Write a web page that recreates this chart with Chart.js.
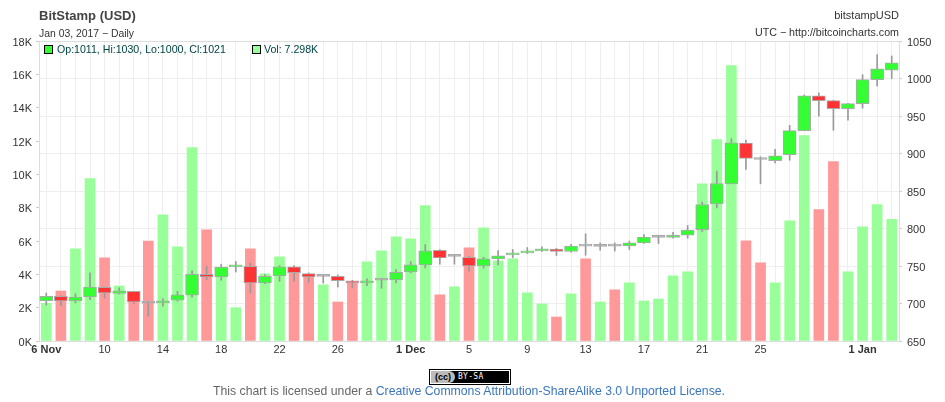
<!DOCTYPE html>
<html>
<head>
<meta charset="utf-8">
<title>BitStamp (USD)</title>
<script src="https://cdn.jsdelivr.net/npm/chart.js@4"></script>
<style>
html, body { margin: 0; padding: 0; background: #fff; overflow: hidden; }
body { width: 945px; height: 402px; position: relative; font-family: "Liberation Sans", Arial, sans-serif; }
canvas { position: absolute; left: 0; top: 0; }
.t { position: absolute; white-space: nowrap; line-height: 14px; }
.sw { position: absolute; width: 7px; height: 7px; border: 1px solid #000; }
a { color: #3a76bd; text-decoration: none; }
#badge { position: absolute; left: 429px; top: 369px; width: 76px; height: 10px; border: 1px solid #000; outline: 1px solid #000; outline-offset: 1px; background: #000; margin: 2px 0 0 2px; }
#badge b { position: absolute; left: -1px; top: -1px; width: 24px; height: 12px; border-radius: 0 6px 6px 0; background: #bbb; color: #000; font: bold 9px/12px "Liberation Sans", sans-serif; text-align: center; }
#badge span { position: absolute; left: 26px; top: 0; color: #fff; font: 8px/10px "DejaVu Sans Mono", monospace; letter-spacing: .3px; }
</style>
</head>
<body>
<canvas id="priceChart" width="945" height="402"></canvas>

<div class="t" style="left:39px;top:9px;font-size:13px;font-weight:bold;color:#444">BitStamp (USD)</div>
<div class="t" style="left:39px;top:27px;font-size:10.4px;color:#333">Jan 03, 2017 &minus; Daily</div>
<div class="t" style="right:46px;top:8px;font-size:11px;color:#333">bitstampUSD</div>
<div class="t" style="right:46px;top:25px;font-size:10.7px;color:#333">UTC &minus; http://bitcoincharts.com</div>

<div class="sw" style="left:44px;top:45px;background:#33ff33"></div>
<div class="t" style="left:57px;top:42px;font-size:10.6px;color:#004444">Op:1011, Hi:1030, Lo:1000, Cl:1021</div>
<div class="sw" style="left:252px;top:45px;background:#99ff99"></div>
<div class="t" style="left:264px;top:42px;font-size:10.6px;color:#004444">Vol: 7.298K</div>

<div id="badge"><b>(cc)</b><span>BY-SA</span></div>
<div class="t" style="left:0;width:938px;top:384px;text-align:center;font-size:12.25px;color:#666">This chart is licensed under a <a href="#">Creative Commons Attribution-ShareAlike 3.0 Unported License.</a></div>

<script>
var categories = ['6 Nov','7 Nov','8 Nov','9 Nov','10 Nov','11 Nov','12 Nov','13 Nov','14 Nov','15 Nov',
    '16 Nov','17 Nov','18 Nov','19 Nov','20 Nov','21 Nov','22 Nov','23 Nov','24 Nov','25 Nov',
    '26 Nov','27 Nov','28 Nov','29 Nov','30 Nov','1 Dec','2 Dec','3 Dec','4 Dec','5 Dec',
    '6 Dec','7 Dec','8 Dec','9 Dec','10 Dec','11 Dec','12 Dec','13 Dec','14 Dec','15 Dec',
    '16 Dec','17 Dec','18 Dec','19 Dec','20 Dec','21 Dec','22 Dec','23 Dec','24 Dec','25 Dec',
    '26 Dec','27 Dec','28 Dec','29 Dec','30 Dec','31 Dec','1 Jan','2 Jan','3 Jan'];

var tickDays = ['6 Nov','10 Nov','14 Nov','18 Nov','22 Nov','26 Nov','1 Dec','5 Dec','9 Dec','13 Dec','17 Dec','21 Dec','25 Dec','1 Jan'];
var tickText = ['6 Nov','10','14','18','22','26','1 Dec','5','9','13','17','21','25','1 Jan'];

var opens = [703.4,709.6,703.4,708.7,721.7,713.6,716.3,700.7,700.7,704.3,
    711,739,735.4,748.8,749.7,727.4,736.8,748.8,739.9,736.1,
    736.3,730,727.4,731.2,731.4,742.1,751.5,771,762.8,761.7,
    750.1,759.5,764.8,767.5,770,772.4,769.3,776.6,776.2,776.8,
    776.8,780.8,788.2,788,791,798.6,832.8,859.6,914,892.2,
    890.3,898.3,930.4,977,970.4,959.7,966.4,998.5,1011];
var closes = [709.6,703.4,708.7,722,714,716.8,702,700.4,703.4,711.4,
    739,735.4,748.4,751,727.4,736.3,748.8,741.2,735.4,736.3,
    730.5,727.4,730,731.4,741.7,751.5,770.2,760.8,763,750.1,
    759.5,763.5,767.5,770,772.8,769.3,776.4,776.4,776.4,776.6,
    780.8,788.4,788.4,791,798,832,860,914.3,893.4,892,
    897,930.4,977,970.4,959.7,966.4,998.5,1013,1021];
var highs = [714,710.5,713,740.8,722,720.8,716.3,703,706.5,716.3,
    743.5,749.7,752.4,756,754,738.6,750.6,750.6,740.8,737.2,
    738,731,732.8,733.7,745.2,755.9,778.6,772,764,763,
    761.7,770.6,772,774.6,775.5,773.7,779,792.9,780.8,780.8,
    783,792,791,795,804,835,876.5,919.7,918,895.6,
    905.4,937.4,978,981,971,966.8,1005,1032,1030];
var lows = [698,697,700.7,705,707,712.7,700,683,696.3,703,
    708.3,731.9,731,742,714,726.5,729.7,729.7,728.3,727.4,
    722,720.8,723.9,720.3,727.4,740.8,747.5,752.4,752.4,743,
    747,751.5,761,766.6,769.3,764,768.4,764.4,771,770,
    772,780,780,787,787,796,827.5,859.6,878.7,859.6,
    887.6,891,930.4,949.9,931,944.5,960.5,990,1000];
var volumes = [2260,3000,5530,9740,4990,3300,2970,6000,7570,5650,
    11600,6670,4200,2000,5530,4030,5050,4300,3900,3370,
    2340,3470,4750,5410,6250,6130,8120,2770,3250,5590,
    6790,4810,4930,2890,2220,1440,2830,4930,2340,3070,
    3490,2400,2520,3910,4150,9430,12080,16530,6010,4690,
    3490,7210,12320,7880,10760,4150,6850,8180,7298];

var GREEN = '#33ff33', RED = '#ff3333', DOJI = '#aaaaaa';

function isDoji(i) {
    return Math.abs(opens[i] - closes[i]) < 0.5;
}

var ctx = document.getElementById('priceChart').getContext('2d');
var myChart = new Chart(ctx, {
    type: 'bar',
    data: {
        labels: categories,
        datasets: [
            {
                // candle bodies
                yAxisID: 'yPrice',
                order: 1,
                grouped: false,
                barThickness: 13,
                minBarLength: 2,
                borderWidth: 1,
                borderSkipped: false,
                borderColor: '#aaaaaa',
                backgroundColor: opens.map(function (o, i) {
                    if (isDoji(i)) return DOJI;
                    return closes[i] > o ? GREEN : RED;
                }),
                data: opens.map(function (o, i) { return [o, closes[i]]; })
            },
            {
                // wicks
                yAxisID: 'yPrice',
                order: 2,
                grouped: false,
                barThickness: 1,
                backgroundColor: '#999999',
                data: lows.map(function (l, i) { return [l, highs[i]]; })
            },
            {
                yAxisID: 'yVol',
                order: 3,
                grouped: false,
                barThickness: 10,
                backgroundColor: volumes.map(function (v, i) {
                    return closes[i] >= opens[i] ? '#99ff99' : '#ff9999';
                }),
                data: volumes
            }
        ]
    },
    options: {
        responsive: false,
        animation: false,
        devicePixelRatio: 1,
        layout: { padding: { left: 0, right: 0, top: 41, bottom: 0 } },
        plugins: {
            legend: { display: false },
            title: { display: false },
            tooltip: { enabled: false }
        },
        scales: {
            x: {
                type: 'category',
                offset: true,
                afterFit: function (scale) { scale.height = 61; },
                grid: { offset: false, color: '#eeeeee', drawTicks: false },
                border: { color: '#dddddd' },
                ticks: {
                    autoSkip: false,
                    maxRotation: 0,
                    padding: 2,
                    color: '#333',
                    font: function (c) {
                        var text = tickText[tickDays.indexOf(categories[c.index])] || '';
                        return { family: 'Liberation Sans', size: 11, weight: text.indexOf(' ') > 0 ? 'bold' : 'normal' };
                    },
                    callback: function (v) {
                        var k = tickDays.indexOf(categories[v]);
                        return k < 0 ? '' : tickText[k];
                    }
                }
            },
            yVol: {
                position: 'left',
                min: 0,
                max: 18000,
                afterFit: function (scale) { scale.width = 39; },
                grid: { drawOnChartArea: false, tickLength: 3, tickColor: '#cccccc' },
                border: { color: '#dddddd' },
                ticks: {
                    stepSize: 2000,
                    padding: 4,
                    color: '#333',
                    // empty first line with a small line height nudges the text down a little
                    font: { family: 'Liberation Sans', size: 11, lineHeight: '3px' },
                    callback: function (v) { return ['', (v / 1000) + 'K']; }
                }
            },
            yPrice: {
                position: 'right',
                min: 650,
                max: 1050,
                afterFit: function (scale) { scale.width = 46; },
                grid: {
                    tickLength: 3,
                    tickColor: '#cccccc',
                    color: function (c) { return c.tick && c.tick.value === 1050 ? '#dddddd' : '#eeeeee'; }
                },
                border: { color: '#dddddd' },
                ticks: {
                    stepSize: 50,
                    padding: 5,
                    color: '#333',
                    font: { family: 'Liberation Sans', size: 11, lineHeight: '3px' },
                    callback: function (v) { return ['', String(v)]; }
                }
            }
        }
    }
});
</script>
</body>
</html>
